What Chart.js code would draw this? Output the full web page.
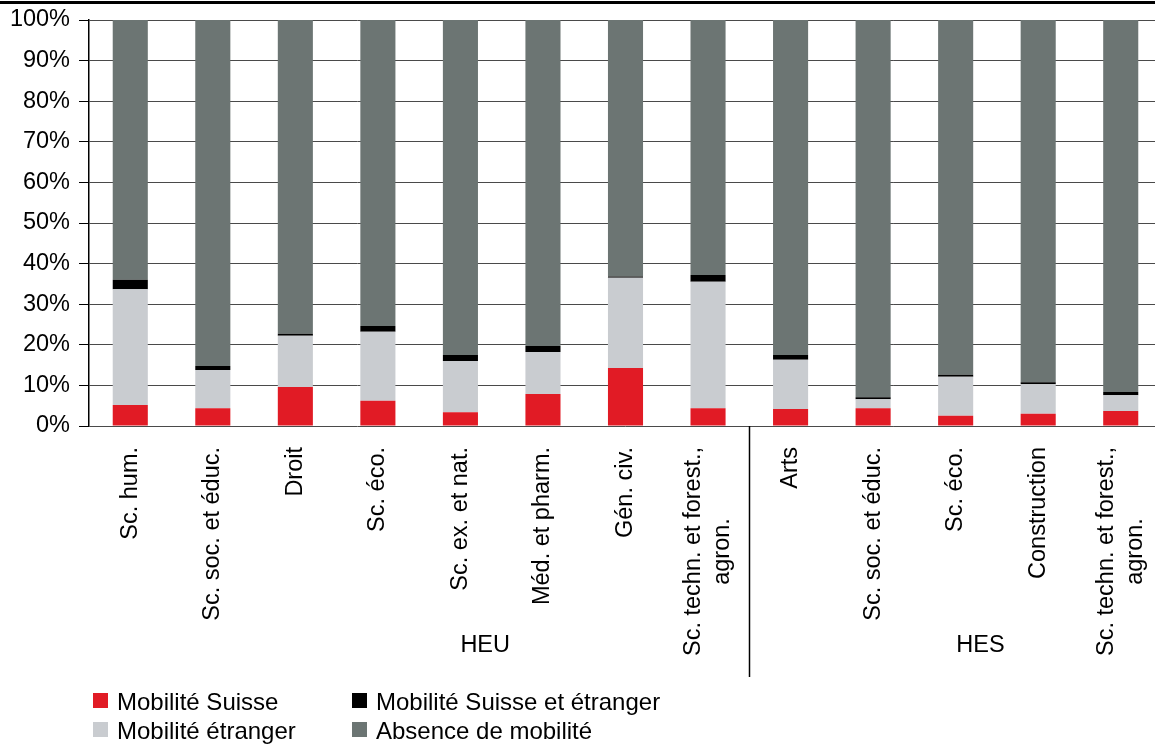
<!DOCTYPE html>
<html>
<head>
<meta charset="utf-8">
<script src="https://cdn.jsdelivr.net/npm/chart.js@4.4.1/dist/chart.umd.min.js"></script>
<style>
  html, body { margin: 0; padding: 0; width: 1155px; height: 745px; overflow: hidden; background: #fff; }
  #wrap { position: relative; width: 1170px; height: 745px; }
  #rule { position: absolute; left: 0; top: 1px; width: 1155px; border-top: 3px solid #000; }
  canvas { position: absolute; left: 0; top: 0; }
</style>
</head>
<body>
<div id="wrap">
  <canvas id="c" width="1170" height="745"></canvas>
  <div id="rule"></div>
</div>
<script>
// Fields of study, HEU (universities) then HES (universities of applied sciences)
const categories = [
  'Sc. hum.', 'Sc. soc. et éduc.', 'Droit', 'Sc. éco.', 'Sc. ex. et nat.',
  'Méd. et pharm.', 'Gén. civ.', ['Sc. techn. et forest.,', 'agron.'],
  'Arts', 'Sc. soc. et éduc.', 'Sc. éco.', 'Construction', ['Sc. techn. et forest.,', 'agron.']
];
const groups = [
  { name: 'HEU', first: 0, last: 7 },
  { name: 'HES', first: 8, last: 12 }
];

// Shares of students (%)
const mobiliteSuisse    = [5.2, 4.4, 9.6, 6.2, 3.4, 7.9, 14.3, 4.4, 4.2, 4.4, 2.5, 3.0, 3.7];
const mobiliteEtranger  = [28.5, 9.4, 12.6, 17.0, 12.6, 10.3, 22.2, 31.1, 12.1, 2.2, 9.6, 7.3, 3.9];
const mobiliteLesDeux   = [2.3, 1.0, 0.5, 1.4, 1.5, 1.5, 0.3, 1.7, 1.2, 0.5, 0.5, 0.5, 0.8];
const absenceMobilite   = [64.0, 85.2, 77.3, 75.4, 82.5, 80.3, 63.2, 62.8, 82.5, 92.9, 87.4, 89.2, 91.6];

const seriesNames = ['Mobilité Suisse', 'Mobilité étranger', 'Mobilité Suisse et étranger', 'Absence de mobilité'];
const yTickValues = [0, 10, 20, 30, 40, 50, 60, 70, 80, 90, 100];

const FONT = '"Liberation Sans", Arial, Helvetica, sans-serif';
const FONT_PX = 23.5;
const LEGEND_PX = 24;
Chart.defaults.font.family = FONT;
Chart.defaults.color = '#000';

// Category labels, group captions, group separator and legend
const annotate = {
  id: 'annotate',
  afterDraw(chart, args, opts) {
    const ctx = chart.ctx, xs = chart.scales.x, area = chart.chartArea;
    ctx.save();
    ctx.fillStyle = '#000';
    ctx.font = FONT_PX + 'px ' + FONT;

    categories.forEach((lab, i) => {
      const lines = Array.isArray(lab) ? lab : [lab];
      const w = Math.max(...lines.map(l => ctx.measureText(l).width));
      ctx.save();
      ctx.translate(xs.getPixelForValue(i), area.bottom + opts.labelGap);
      ctx.rotate(-Math.PI / 2);
      ctx.textAlign = 'center';
      ctx.textBaseline = 'middle';
      lines.forEach((l, k) => ctx.fillText(l, -w / 2, (k - (lines.length - 1) / 2) * opts.lineHeight));
      ctx.restore();
    });

    ctx.textAlign = 'center';
    ctx.textBaseline = 'middle';
    groups.forEach((g, gi) => {
      ctx.fillText(g.name, xs.getPixelForValue(opts.groupAnchors[gi]), opts.groupY);
      if (gi > 0) {
        const sx = Math.round(xs.getPixelForValue(g.first - 0.5)) + 0.5;
        ctx.strokeStyle = '#000';
        ctx.lineWidth = 1.5;
        ctx.beginPath();
        ctx.moveTo(sx, area.bottom);
        ctx.lineTo(sx, opts.sepBottom);
        ctx.stroke();
      }
    });

    // legend, two columns
    ctx.font = LEGEND_PX + 'px ' + FONT;
    ctx.textAlign = 'left';
    opts.legendOrder.forEach((di, n) => {
      const ds = chart.data.datasets[di];
      const bx = opts.legendCols[n % 2], by = opts.legendRows[Math.floor(n / 2)];
      ctx.fillStyle = ds.backgroundColor;
      ctx.fillRect(bx, by, opts.box, opts.box);
      ctx.fillStyle = '#000';
      ctx.fillText(ds.label, bx + opts.box + opts.textGap, by + opts.box / 2 + 3);
    });
    ctx.restore();
  }
};

new Chart(document.getElementById('c'), {
  type: 'bar',
  data: {
    labels: categories,
    datasets: [
      { label: seriesNames[0], data: mobiliteSuisse,   backgroundColor: '#E11B25' },
      { label: seriesNames[1], data: mobiliteEtranger, backgroundColor: '#C9CCD0' },
      { label: seriesNames[2], data: mobiliteLesDeux,  backgroundColor: '#000000' },
      { label: seriesNames[3], data: absenceMobilite,  backgroundColor: '#6C7573' }
    ]
  },
  options: {
    responsive: false,
    animation: false,
    devicePixelRatio: 1,
    layout: { padding: { top: 20, right: 8, bottom: 319, left: 0 } },
    datasets: { bar: { categoryPercentage: 1, barPercentage: 0.425, borderWidth: 0 } },
    scales: {
      x: { stacked: true, display: false },
      y: {
        stacked: true,
        min: 0, max: 100,
        afterFit(scale) { scale.width = 89; scale.paddingTop = 0; scale.paddingBottom = 0; },
        afterBuildTicks(scale) { scale.ticks = yTickValues.map(v => ({ value: v })); },
        ticks: { callback: v => v + '%', font: { size: FONT_PX }, color: '#000', padding: 9 },
        grid: { color: '#4a4a4a', lineWidth: 1, tickLength: 10, tickColor: '#000' },
        border: { display: true, color: '#000', width: 1.5 }
      }
    },
    plugins: {
      legend: { display: false },
      tooltip: { enabled: false },
      annotate: {
        labelGap: 21,
        lineHeight: 29,
        groupAnchors: [4.3, 10.3],
        groupY: 646,
        sepBottom: 677,
        legendOrder: [0, 2, 1, 3],
        legendCols: [93, 352],
        legendRows: [693, 722],
        box: 15,
        textGap: 9
      }
    }
  },
  plugins: [annotate]
});
</script>
</body>
</html>
